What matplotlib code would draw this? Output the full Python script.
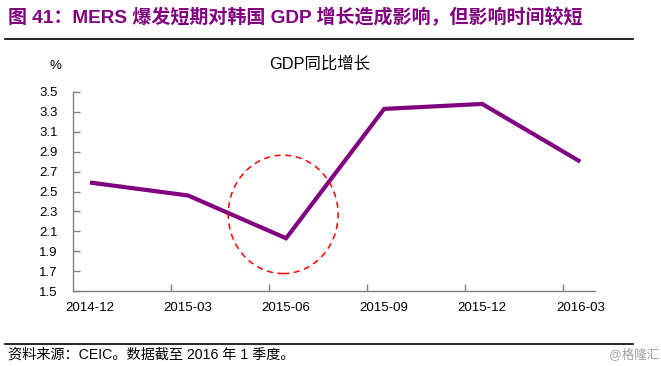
import matplotlib
matplotlib.use("Agg")
import matplotlib.pyplot as plt
from matplotlib.patches import Ellipse
from matplotlib.lines import Line2D

plt.rcParams['font.family'] = ['Liberation Sans', 'Noto Sans CJK SC', 'DejaVu Sans']

categories = ['2014-12', '2015-03', '2015-06', '2015-09', '2015-12', '2016-03']
gdp_yoy = [2.59, 2.46, 2.03, 3.33, 3.38, 2.80]
y_ticks = [1.5, 1.7, 1.9, 2.1, 2.3, 2.5, 2.7, 2.9, 3.1, 3.3, 3.5]

title_text = '图 41：MERS 爆发短期对韩国 GDP 增长造成影响，但影响时间较短'
chart_title = 'GDP同比增长'
source_text = '资料来源：CEIC。数据截至 2016 年 1 季度。'
watermark = '@格隆汇'

W, H = 661, 366
fig = plt.figure(figsize=(W / 100, H / 100), dpi=100)
fig.patch.set_facecolor('white')

ax = fig.add_axes([73 / W, 1 - 291 / H, (595 - 73) / W, (291 - 92) / H])
x = list(range(len(categories)))
ax.plot(x, gdp_yoy, color='#800080', lw=3.0, solid_capstyle='butt', solid_joinstyle='miter', zorder=3)

left = -0.173
ax.set_xlim(left, 5.15)
ax.set_ylim(1.5, 3.5)
ax.set_yticks(y_ticks)
ax.set_yticklabels([f'{v:.1f}' for v in y_ticks])
ax.set_xticks(x)
ax.set_xticklabels(categories)
ax.set_xticks([left + k for k in range(1, 6)], minor=True)
ax.tick_params(axis='x', which='major', length=0, pad=8, labelsize=9.5, colors='black')
ax.tick_params(axis='x', which='minor', length=5, direction='in', color='#808080', width=1)
ax.tick_params(axis='y', which='major', length=5, direction='in', pad=11, labelsize=9.5, color='#808080', width=1)
for s in ['top', 'right']:
    ax.spines[s].set_visible(False)
for s in ['left', 'bottom']:
    ax.spines[s].set_color('#808080')
    ax.spines[s].set_linewidth(1)

ell = Ellipse((1.97, 2.27), width=1.12, height=1.19, fill=False, edgecolor='red',
              linestyle=(0, (4, 3)), lw=1.1, zorder=4)
ax.add_patch(ell)

fig.text(8 / W, 1 - 17 / H, title_text, fontsize=13.7, fontweight='bold', color='#800080',
         va='center', ha='left', family=['Liberation Sans', 'Noto Sans CJK SC'])
fig.add_artist(Line2D([5 / W, 633 / W], [1 - 38.5 / H, 1 - 38.5 / H], color='black', lw=1.2))
fig.text(320 / W, 1 - 64 / H, chart_title, fontsize=11.8, ha='center', va='center', color='black')
fig.text(55 / W, 1 - 66 / H, '%', fontsize=9.5, ha='center', va='center', color='black')
fig.add_artist(Line2D([5 / W, 633 / W], [1 - 343.5 / H, 1 - 343.5 / H], color='black', lw=1.2))
fig.text(8 / W, 1 - 355 / H, source_text, fontsize=10.2, ha='left', va='center', color='black')
fig.text(659 / W, 1 - 355 / H, watermark, fontsize=9, ha='right', va='center', color='#a0a0a0')

fig.savefig('out.png', dpi=100, facecolor='white')
